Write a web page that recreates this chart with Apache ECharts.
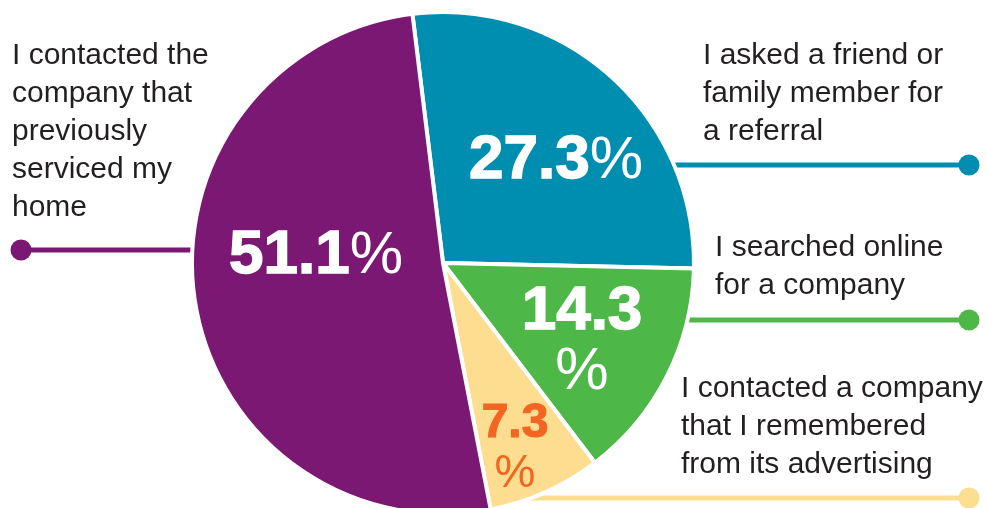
<!DOCTYPE html>
<html>
<head>
<meta charset="utf-8">
<script src="https://cdn.jsdelivr.net/npm/echarts@6/dist/echarts.min.js"></script>
<style>
  html, body { margin: 0; padding: 0; background: #fff; }
  #chart { width: 987px; height: 508px; }
</style>
</head>
<body>
<div id="chart"></div>
<script>
// data
const categories = [
  'I asked a friend or\nfamily member for\na referral',
  'I searched online\nfor a company',
  'I contacted a company\nthat I remembered\nfrom its advertising',
  'I contacted the\ncompany that\npreviously\nserviced my\nhome'
];
const values = [27.3, 14.3, 7.3, 51.1];

// styles
const sliceColors = ['#008eb0', '#4db848', '#fdde90', '#7a1873'];
const valueColors = ['#fff', '#fff', '#f26522', '#fff'];
const splitPercent = [false, true, true, false];
const smallLabel = [false, false, true, false];

// layout (pixels)
const pieCenter = [443, 263];
const pieRadius = 251;
const valuePos = [[556, 161], [582, 342], [515, 449], [316, 256]];
const leaderY = [165, 320, 498, 250];
const leaderSide = ['right', 'right', 'right', 'left'];
const dotX = { right: 969, left: 21 };
const textPos = [[703, 37], [715, 229], [681, 370], [12, 37]];

const FONT = '"Liberation Sans", Arial, sans-serif';

const chart = echarts.init(document.getElementById('chart'));

const pieData = values.map(function (v, i) {
  const c = valueColors[i];
  return {
    value: v,
    name: categories[i],
    itemStyle: { color: sliceColors[i] },
    label: {
      color: c,
      rich: {
        n: { fontSize: 62, fontWeight: 'bold', lineHeight: 60, fontFamily: FONT, color: c, textBorderColor: c, textBorderWidth: 1.5 },
        p: { fontSize: 60, fontWeight: 'normal', lineHeight: 60, fontFamily: FONT, color: c },
        s: { fontSize: 48, fontWeight: 'bold', lineHeight: 50, fontFamily: FONT, color: c, textBorderColor: c, textBorderWidth: 1.2 },
        q: { fontSize: 46, fontWeight: 'normal', lineHeight: 50, fontFamily: FONT, color: c }
      }
    }
  };
});

const graphics = [];
categories.forEach(function (name, i) {
  const y = leaderY[i];
  const x1 = leaderSide[i] === 'right' ? pieCenter[0] : dotX.left;
  const x2 = leaderSide[i] === 'right' ? dotX.right : pieCenter[0];
  graphics.push({
    type: 'line',
    z: 0,
    shape: { x1: x1, y1: y, x2: x2, y2: y },
    style: { stroke: sliceColors[i], lineWidth: 5 }
  });
  graphics.push({
    type: 'circle',
    z: 10,
    shape: { cx: dotX[leaderSide[i]], cy: y, r: 10.5 },
    style: { fill: sliceColors[i] }
  });
  graphics.push({
    type: 'text',
    z: 10,
    x: textPos[i][0],
    y: textPos[i][1],
    style: {
      text: name,
      fill: '#231f20',
      font: '30px ' + FONT,
      lineHeight: 38,
      textVerticalAlign: 'top'
    }
  });
});

chart.setOption({
  animation: false,
  graphic: graphics,
  series: [{
    type: 'pie',
    z: 2,
    center: pieCenter,
    radius: pieRadius,
    startAngle: 97,
    clockwise: true,
    silent: true,
    itemStyle: { borderColor: '#fff', borderWidth: 4 },
    label: {
      show: true,
      position: 'inside',
      fontFamily: FONT,
      formatter: function (p) {
        const i = p.dataIndex;
        const k = smallLabel[i] ? 's' : 'n';
        const q = smallLabel[i] ? 'q' : 'p';
        return '{' + k + '|' + p.value + '}' + (splitPercent[i] ? '\n' : '') + '{' + q + '|%}';
      }
    },
    labelLine: { show: false },
    labelLayout: function (p) {
      const pos = valuePos[p.dataIndex];
      return { x: pos[0], y: pos[1], align: 'center', verticalAlign: 'middle' };
    },
    data: pieData
  }]
});
</script>
</body>
</html>
